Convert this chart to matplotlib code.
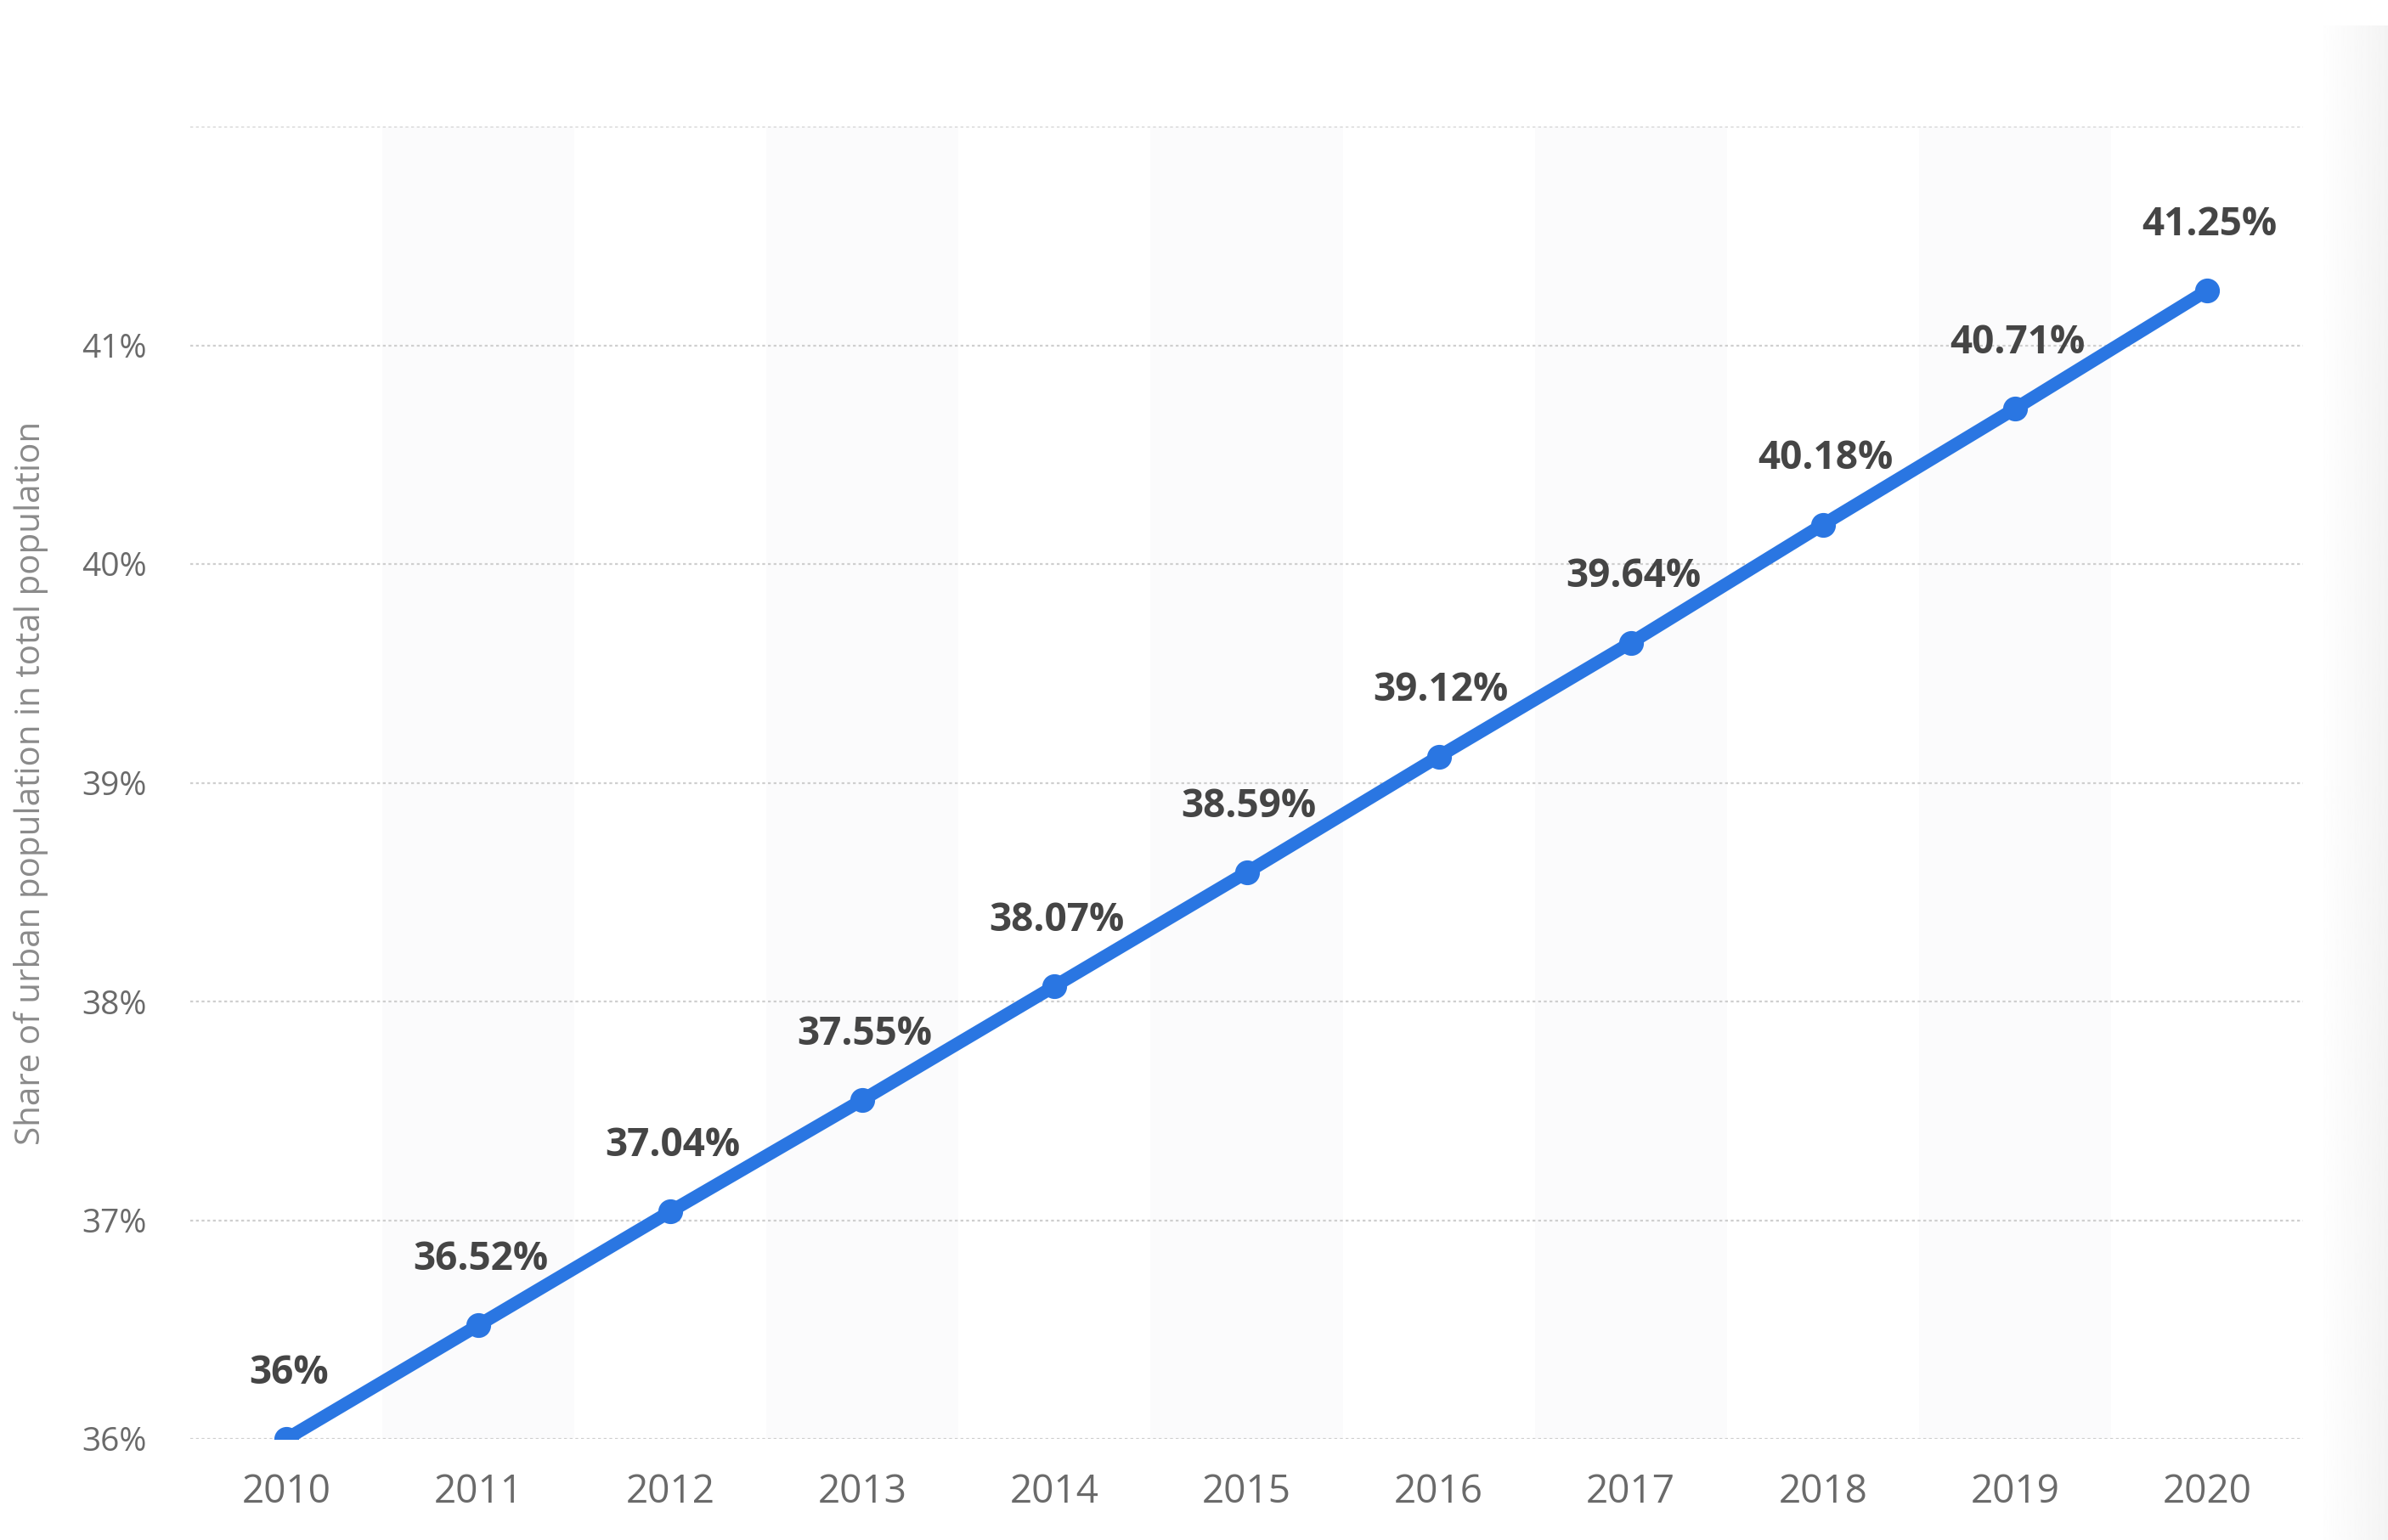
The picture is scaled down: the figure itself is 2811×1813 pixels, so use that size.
import numpy as np
import matplotlib.pyplot as plt

# Share of urban population in total population, 2010-2020
years = ['2010', '2011', '2012', '2013', '2014', '2015', '2016', '2017', '2018', '2019', '2020']
share = [36.0, 36.52, 37.04, 37.55, 38.07, 38.59, 39.12, 39.64, 40.18, 40.71, 41.25]
labels = ['36%', '36.52%', '37.04%', '37.55%', '38.07%', '38.59%', '39.12%',
          '39.64%', '40.18%', '40.71%', '41.25%']
y_ticks = [36, 37, 38, 39, 40, 41, 42]
y_tick_labels = ['36%', '37%', '38%', '39%', '40%', '41%', '']

plt.rcParams['font.family'] = ['Open Sans', 'DejaVu Sans']

fig = plt.figure(figsize=(28.11, 18.13), dpi=100)
ax = fig.add_axes([224 / 2811, 1 - 1694 / 1813, 2487 / 2811, 1545 / 1813])

x = np.arange(len(years))

# alternating column bands
for i in x:
    if i % 2 == 1:
        ax.axvspan(i - 0.5, i + 0.5, color='#fbfbfc', zorder=0, lw=0)

for yt in y_ticks:
    ax.axhline(yt, color='#cfcfcf', lw=1.6, ls=(0, (1.5, 1.5)), zorder=1)

ax.plot(x, share, color='#2a76e2', lw=11, marker='o', markersize=20,
        solid_capstyle='round', zorder=3)

for xi, yi, lab in zip(x, share, labels):
    ax.annotate(lab, (xi, yi), xytext=(2, 56), textcoords='offset points',
                ha='center', va='center', fontsize=33, fontweight='bold',
                color='#454545', zorder=4)

ax.set_xlim(-0.5, len(years) - 0.5)
ax.set_ylim(36, 42)
ax.set_xticks(x)
ax.set_xticklabels(years, fontsize=33, color='#6a6a6a')
ax.set_yticks(y_ticks)
ax.set_yticklabels(y_tick_labels, fontsize=28, color='#6a6a6a')
ax.tick_params(axis='x', length=0, pad=29)
ax.tick_params(axis='y', length=0, pad=37)
for s in ax.spines.values():
    s.set_visible(False)
ax.set_facecolor('white')

ax.set_ylabel('Share of urban population in total population', fontsize=29,
              color='#8a8a8a', labelpad=28)

# faint shadow of a side panel at the right edge
sh = fig.add_axes([2728 / 2811, 0.0, 83 / 2811, 1 - 30 / 1813], zorder=-1)
grad = np.linspace(1.0, 0.955, 100).reshape(1, -1)
sh.imshow(grad, aspect='auto', cmap='gray', vmin=0, vmax=1, extent=[0, 1, 0, 1])
sh.axis('off')

plt.savefig('out.png', dpi=100)
